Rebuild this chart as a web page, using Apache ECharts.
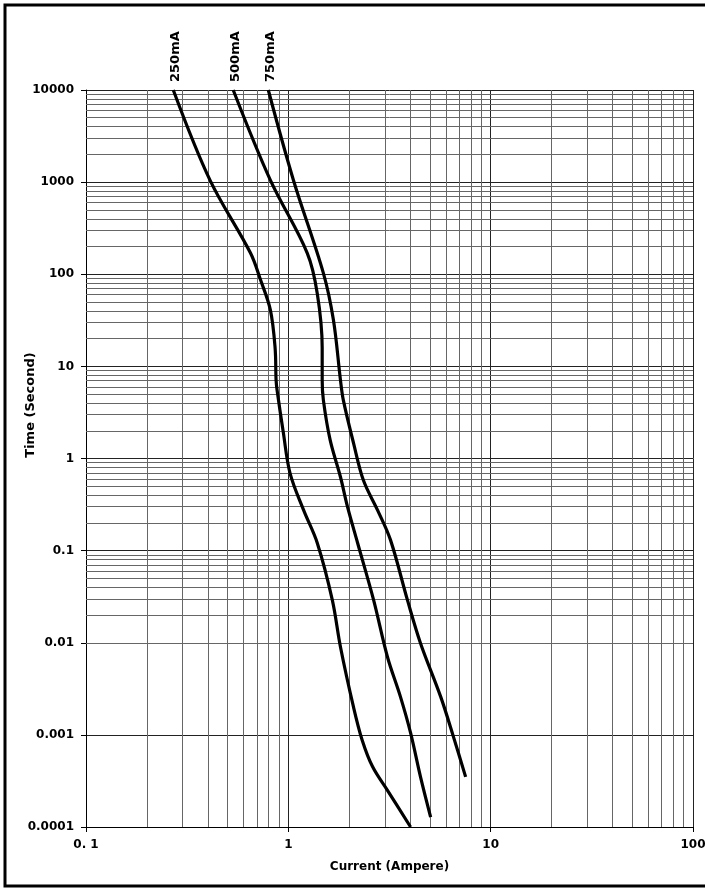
<!DOCTYPE html>
<html>
<head>
<meta charset="utf-8">
<script src="https://cdn.jsdelivr.net/npm/echarts@6/dist/echarts.min.js"></script>
<style>
  html, body { margin: 0; padding: 0; background: #fff; }
  #main { width: 705px; height: 889px; }
</style>
</head>
<body>
<div id="main"></div>
<script>
// time-current curves, current in A, time in s
var names = ['250mA', '500mA', '750mA'];
var cur250 = [0.27, 0.41, 0.65, 0.73, 0.815, 0.86, 0.87, 0.88, 0.945, 1.02, 1.19, 1.39, 1.65, 1.81, 2.10, 2.32, 2.61, 3.09, 4.02];
var time250 = [10000, 1050, 170, 86, 41, 16, 7.1, 5.5, 1.9, 0.69, 0.275, 0.121, 0.029, 0.009, 0.002, 0.00087, 0.00045, 0.00025, 0.0001];
var cur500 = [0.534, 0.815, 1.24, 1.39, 1.47, 1.47, 1.49, 1.61, 1.81, 1.96, 2.20, 2.64, 3.09, 3.58, 4.02, 4.50, 5.05];
var time500 = [10000, 1050, 170, 62, 16, 7.1, 4.3, 1.58, 0.63, 0.30, 0.121, 0.029, 0.007, 0.0026, 0.00105, 0.00035, 0.000128];
var cur750 = [0.796, 1.06, 1.49, 1.67, 1.81, 1.87, 2.10, 2.35, 2.76, 3.20, 3.88, 4.50, 5.66, 6.56, 7.52];
var time750 = [10000, 1050, 103, 32, 7.1, 4.3, 1.47, 0.58, 0.275, 0.13, 0.029, 0.0099, 0.0026, 0.00094, 0.00035];

var xLabels = {'0.1': '0. 1', '1': '1', '10': '10', '100': '100'};
var yLabels = {'0.0001': '0.0001', '0.001': '0.001', '0.01': '0.01', '0.1': '0.1', '1': '1', '10': '10', '100': '100', '1000': '1000', '10000': '10000'};

var curves = [[cur250, time250], [cur500, time500], [cur750, time750]];

// minor grid values 2..9 of each decade
function minors(fromExp, toExp) {
    var out = [];
    for (var e = fromExp; e < toExp; e++) {
        for (var k = 2; k <= 9; k++) {
            out.push(+(k * Math.pow(10, e)).toPrecision(3));
        }
    }
    return out;
}
var minorLines = [];
minors(-1, 2).forEach(function (v) { minorLines.push({xAxis: v}); });
minors(-4, 4).forEach(function (v) { minorLines.push({yAxis: v}); });

var font = 'DejaVu Sans';
var series = [];
curves.forEach(function (c, i) {
    var pts = c[0].map(function (x, j) { return [x, c[1][j]]; });
    series.push({
        name: names[i],
        type: 'line',
        data: pts,
        smooth: 0.35,
        symbol: 'none',
        lineStyle: {color: '#000', width: 3.2},
        z: 5
    });
});
series.push({
    type: 'line',
    data: [],
    silent: true,
    markLine: {
        silent: true,
        symbol: 'none',
        label: {show: false},
        lineStyle: {color: '#666', width: 1, type: 'solid'},
        data: minorLines,
        z: 1
    }
});

var chart = echarts.init(document.getElementById('main'));
chart.setOption({
    backgroundColor: '#fff',
    animation: false,
    grid: {left: 86, right: 12, top: 90, bottom: 62, outerBoundsMode: 'none', containLabel: false},
    xAxis: {
        type: 'log',
        logBase: 10,
        min: 0.1,
        max: 100,
        name: 'Current (Ampere)',
        nameLocation: 'middle',
        nameGap: 34,
        nameMoveOverlap: false,
        nameTextStyle: {fontFamily: font, fontWeight: 'bold', fontSize: 12, color: '#000'},
        axisLine: {lineStyle: {color: '#000', width: 1}},
        axisTick: {show: true, length: 5, lineStyle: {color: '#000'}},
        axisLabel: {
            fontFamily: font, fontWeight: 'bold', fontSize: 12, color: '#000', margin: 12,
            hideOverlap: false,
            formatter: function (v) { return xLabels[String(+v.toPrecision(3))] || ''; }
        },
        splitLine: {show: true, lineStyle: {color: '#222', width: 1}}
    },
    yAxis: {
        type: 'log',
        logBase: 10,
        min: 0.0001,
        max: 10000,
        axisLine: {lineStyle: {color: '#000', width: 1}},
        axisTick: {show: true, length: 5, lineStyle: {color: '#000'}},
        axisLabel: {
            fontFamily: font, fontWeight: 'bold', fontSize: 12, color: '#000', margin: 12,
            formatter: function (v) { return yLabels[String(+v.toPrecision(3))] || ''; }
        },
        splitLine: {show: true, lineStyle: {color: '#222', width: 1}}
    },
    series: series
});

// border, y title and rotated curve labels above each curve start
var graphics = [{
    type: 'rect',
    shape: {x: 5, y: 5, width: 712, height: 881},
    style: {fill: null, stroke: '#000', lineWidth: 3},
    silent: true
}, {
    type: 'text',
    x: 31,
    y: 405,
    rotation: Math.PI / 2,
    style: {
        text: 'Time (Second)',
        fontFamily: font,
        fontWeight: 'bold',
        fontSize: 13,
        fill: '#000',
        align: 'center',
        verticalAlign: 'middle'
    }
}];
curves.forEach(function (c, i) {
    var p = chart.convertToPixel({seriesIndex: i}, [c[0][0], c[1][0]]);
    graphics.push({
        type: 'text',
        x: p[0] + 2,
        y: p[1] - 8,
        rotation: Math.PI / 2,
        style: {
            text: names[i],
            fontFamily: font,
            fontWeight: 'bold',
            fontSize: 13,
            fill: '#000',
            align: 'left',
            verticalAlign: 'middle'
        }
    });
});
chart.setOption({graphic: graphics});
</script>
</body>
</html>
